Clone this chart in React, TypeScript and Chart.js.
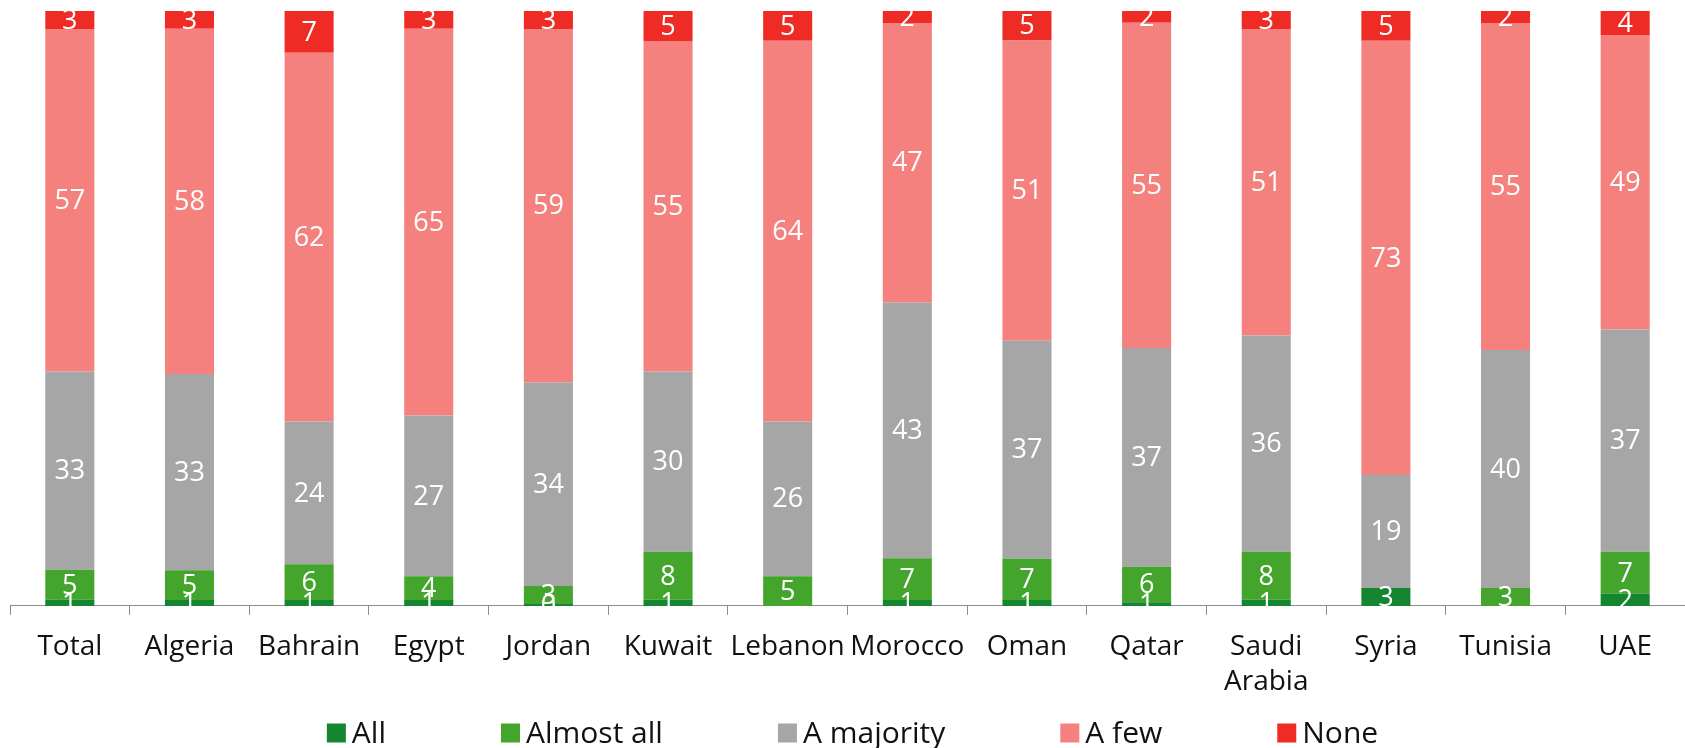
import React, { useEffect, useRef } from "react";
import { Chart, registerables } from "chart.js";

Chart.register(...registerables);

const categories = ["Total", "Algeria", "Bahrain", "Egypt", "Jordan", "Kuwait", "Lebanon", "Morocco", "Oman", "Qatar", "Saudi Arabia", "Syria", "Tunisia", "UAE"];
const seriesNames = ["All", "Almost all", "A majority", "A few", "None"];
const allValues = [1, 1, 1, 1, 0.3, 1, 0, 1, 1, 0.6, 1, 3, 0, 2];
const almostAllValues = [5, 5, 6, 4, 3, 8, 5, 7, 7, 6, 8, 0, 3, 7];
const majorityValues = [33, 33, 24, 27, 34, 30, 26, 43, 37, 37, 36, 19, 40, 37];
const fewValues = [57, 58, 62, 65, 59, 55, 64, 47, 51, 55, 51, 73, 55, 49];
const noneValues = [3, 3, 7, 3, 3, 5, 5, 2, 5, 2, 3, 5, 2, 4];
const seriesColors = ["#13862F", "#43A52C", "#A6A6A6", "#F4817D", "#EE2B25"];

const FONT = "'Open Sans', 'Noto Sans', sans-serif";

const rawSeries = [allValues, almostAllValues, majorityValues, fewValues, noneValues];
const totals = categories.map((_, i) => rawSeries.reduce((s, arr) => s + arr[i], 0));

const labelPlugin = {
  id: "segLabels",
  afterDatasetsDraw(chart: any) {
    const ctx = chart.ctx;
    ctx.save();
    ctx.fillStyle = "#ffffff";
    ctx.font = `27px ${FONT}`;
    ctx.textAlign = "center";
    ctx.textBaseline = "middle";
    chart.data.datasets.forEach((ds: any, di: number) => {
      const meta = chart.getDatasetMeta(di);
      meta.data.forEach((el: any, i: number) => {
        const raw = ds.rawValues[i];
        if (!raw) return;
        const yc = (el.y + el.base) / 2;
        ctx.fillText(String(Math.round(raw)), el.x, yc + 1);
      });
    });
    ctx.restore();
  },
};

const legendPlugin = {
  id: "customLegend",
  afterDraw(chart: any) {
    const ctx = chart.ctx;
    ctx.save();
    ctx.font = `30px ${FONT}`;
    ctx.textBaseline = "middle";
    const box = 19;
    const gap = 6;
    const spacing = 115;
    const widths = seriesNames.map((n) => ctx.measureText(n).width);
    const total = widths.reduce((s, w) => s + box + gap + w, 0) + spacing * (seriesNames.length - 1);
    const cx = (chart.chartArea.left + chart.chartArea.right) / 2 + 5;
    let x = cx - total / 2;
    const y = chart.height - 15;
    seriesNames.forEach((n, i) => {
      ctx.fillStyle = seriesColors[i];
      ctx.fillRect(x, y - box / 2, box, box);
      ctx.fillStyle = "#111111";
      ctx.fillText(n, x + box + gap, y + 1);
      x += box + gap + widths[i] + spacing;
    });
    ctx.restore();
  },
};

export default function App() {
  const ref = useRef<HTMLCanvasElement | null>(null);
  useEffect(() => {
    if (!ref.current) return;
    const chart = new Chart(ref.current, {
      type: "bar",
      data: {
        labels: categories,
        datasets: rawSeries.map((arr, si) => ({
          label: seriesNames[si],
          data: arr.map((v, i) => (v / totals[i]) * 100),
          rawValues: arr,
          backgroundColor: seriesColors[si],
          borderWidth: 0,
          barPercentage: 0.41,
          categoryPercentage: 1,
        })) as any,
      },
      options: {
        animation: false,
        responsive: true,
        maintainAspectRatio: false,
        layout: { padding: { left: 10, right: 0, top: 11, bottom: 34 } },
        plugins: {
          legend: { display: false },
          tooltip: { enabled: false },
        },
        scales: {
          x: {
            stacked: true,
            grid: {
              offset: true,
              drawOnChartArea: false,
              drawTicks: true,
              tickLength: 9,
              color: "#8c8c8c",
            },
            border: { display: true, color: "#8c8c8c", width: 1 },
            ticks: {
              color: "#111111",
              font: { family: FONT, size: 28, lineHeight: 1.27 },
              padding: 14,
              maxRotation: 0,
              autoSkip: false,
              callback: function (this: any, value: any) {
                const l = categories[value as number];
                return l.includes(" ") ? l.split(" ") : l;
              },
            },
          },
          y: {
            stacked: true,
            display: false,
            min: 0,
            max: 100,
          },
        },
      },
      plugins: [labelPlugin, legendPlugin],
    });
    return () => chart.destroy();
  }, []);
  return (
    <div style={{ position: "fixed", left: 0, top: 0, width: 1685, height: 748 }}>
      <canvas ref={ref} />
    </div>
  );
}
